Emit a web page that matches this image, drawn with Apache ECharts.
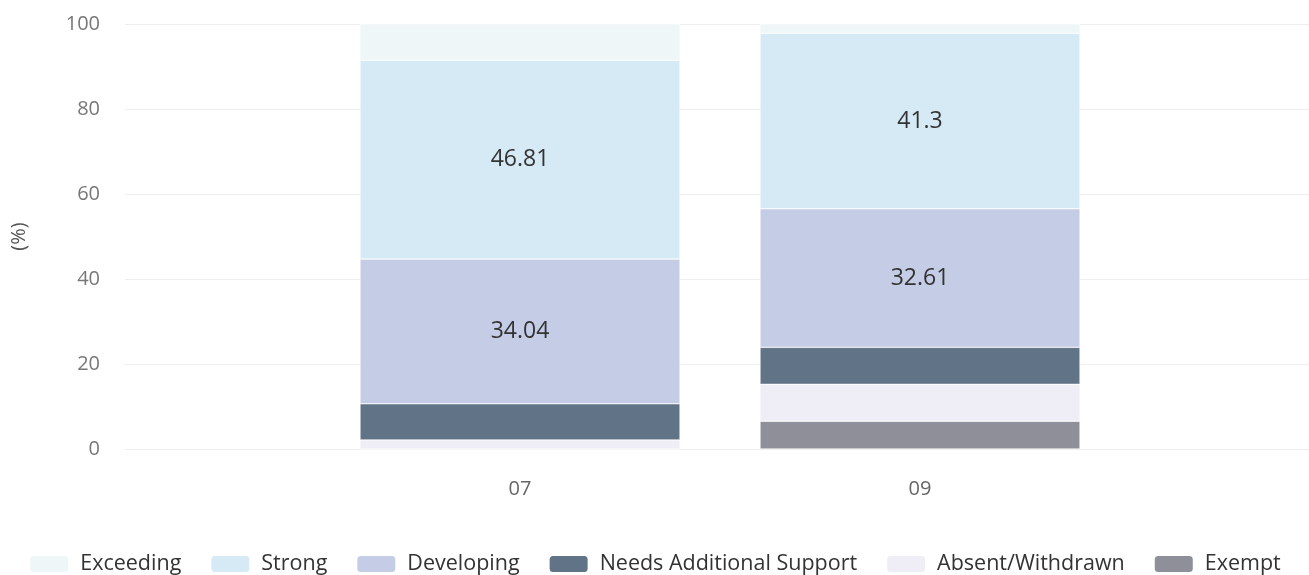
<!DOCTYPE html>
<html><head><meta charset="utf-8">
<script src="https://cdn.jsdelivr.net/npm/echarts@6/dist/echarts.min.js"></script>
<style>html,body{margin:0;padding:0;background:#fff}#c{width:1309px;height:575px}</style>
</head><body><div id="c"></div>
<script>
const categories = ['07', '09'];
const exceeding = [8.51, 2.17];
const strong = [46.81, 41.3];
const developing = [34.04, 32.61];
const needsSupport = [8.51, 8.7];
const absent = [2.13, 8.7];
const exempt = [0, 6.52];
const yTicks = [0, 20, 40, 60, 80, 100];

const legendOrder = ['Exceeding', 'Strong', 'Developing', 'Needs Additional Support', 'Absent/Withdrawn', 'Exempt'];
const stackOrder = [
  ['Exempt', exempt, '#8f8f9a'],
  ['Absent/Withdrawn', absent, '#efeef6'],
  ['Needs Additional Support', needsSupport, '#617386'],
  ['Developing', developing, '#c5cce6'],
  ['Strong', strong, '#d6eaf5'],
  ['Exceeding', exceeding, '#eef6f7']
];

const font = 'Open Sans';
const chart = echarts.init(document.getElementById('c'));
chart.setOption({
  animation: false,
  grid: [
    {left: 125, right: 0, top: 24, bottom: 126},
    {left: 320, right: 189, top: 24, bottom: 126}
  ],
  legend: {
    data: legendOrder,
    top: 553,
    left: 'center',
    padding: 0,
    itemWidth: 40,
    itemHeight: 18,
    itemGap: 28,
    textStyle: {fontSize: 21.5, color: '#333', fontFamily: font, padding: [0, 0, 0, 6]}
  },
  xAxis: [
    {gridIndex: 0, type: 'category', data: ['', ''], show: false},
    {gridIndex: 1, type: 'category', data: categories,
     axisLine: {show: false}, axisTick: {show: false},
     axisLabel: {fontSize: 20, color: '#666', margin: 30, fontFamily: font}}
  ],
  yAxis: [
    {gridIndex: 0, type: 'value', min: 0, max: 100, interval: 20,
     name: '(%)', nameLocation: 'middle', nameGap: 96,
     nameTextStyle: {fontSize: 20, color: '#555', fontFamily: font},
     axisLabel: {fontSize: 20, color: '#777', margin: 25, fontFamily: font,
       formatter: v => yTicks.includes(v) ? String(v) : ''},
     splitLine: {lineStyle: {color: '#eeeeee'}},
     axisLine: {show: false}, axisTick: {show: false}},
    {gridIndex: 1, type: 'value', min: 0, max: 100, interval: 20, show: false}
  ],
  series: stackOrder.map(([name, vals, color]) => ({
    name: name,
    type: 'bar',
    stack: 'total',
    xAxisIndex: 1, yAxisIndex: 1,
    barWidth: '80%',
    data: vals,
    itemStyle: {color: color, borderColor: '#fff', borderWidth: 0.5},
    label: {
      show: true, position: 'inside', fontSize: 23, color: '#333', fontFamily: font,
      formatter: p => p.value >= 15 ? String(p.value) : ''
    }
  }))
});
</script></body></html>
